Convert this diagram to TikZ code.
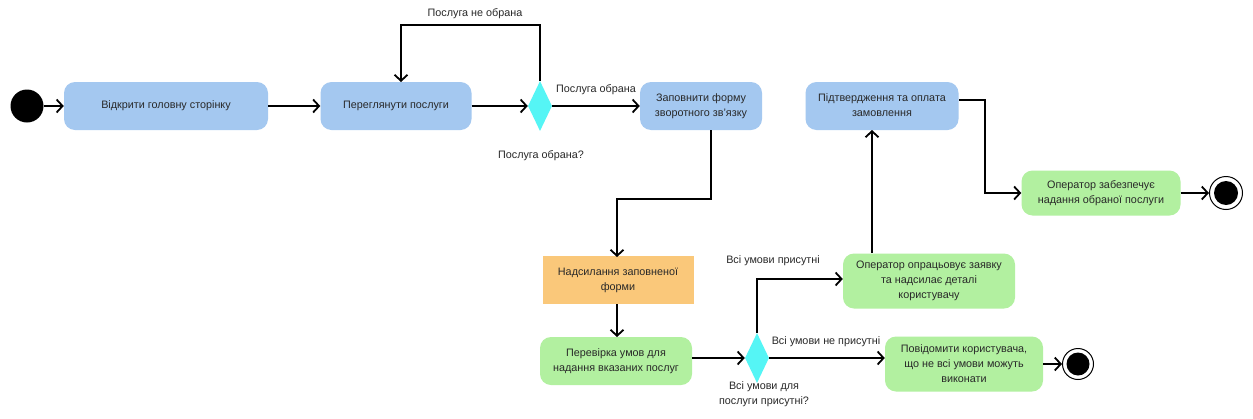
\documentclass[tikz,border=0pt]{standalone}
\usepackage{fontspec}
\setmainfont{Liberation Sans}
\usetikzlibrary{arrows.meta,shapes.geometric}
\definecolor{bluebox}{RGB}{164,200,240}
\definecolor{greenbox}{RGB}{178,240,160}
\definecolor{orangebox}{RGB}{250,200,122}
\definecolor{cyandia}{RGB}{85,245,245}
\definecolor{txt}{RGB}{40,40,40}
\begin{document}
\begin{tikzpicture}[x=1pt,y=-1pt,
  every node/.style={font=\fontsize{10.8}{15}\selectfont, text=txt},
  act/.style={rounded corners=11pt, align=center, inner sep=0pt},
  bluea/.style={act, fill=bluebox},
  greena/.style={act, fill=greenbox},
  orangea/.style={align=center, inner sep=0pt, fill=orangebox},
  dec/.style={diamond, fill=cyandia, inner sep=0pt, minimum width=24pt, minimum height=50pt, aspect=0.48},
  conn/.style={line width=1.8pt, -{Straight Barb[length=6pt,width=13pt,line width=1.8pt]}},
  lbl/.style={align=center, inner sep=0pt}]
\useasboundingbox (0,0) rectangle (1253,418);
\fill[white] (0,0) rectangle (1253,418);

% start
\node[circle, fill=black, minimum size=33pt, inner sep=0pt] (start) at (27,106) {};

\node[bluea, minimum width=204pt, minimum height=48pt] (open) at (166,106) {Відкрити головну сторінку};
\node[bluea, minimum width=151pt, minimum height=48pt] (browse) at (396,106) {Переглянути послуги};
\node[dec] (d1) at (540,106) {};
\node[bluea, minimum width=122pt, minimum height=48pt] (form) at (701,106) {Заповнити форму\\зворотного зв'язку};
\node[bluea, minimum width=153pt, minimum height=48pt] (pay) at (882,106) {\raisebox{5pt}{\begin{tabular}{@{}c@{}}Підтвердження та оплата\\замовлення\end{tabular}}};
\node[greena, minimum width=159pt, minimum height=45pt] (serve) at (1101,193) {Оператор забезпечує\\надання обраної послуги};
\node[circle, draw=black, line width=1pt, fill=white, minimum size=33pt, inner sep=0pt] (end1) at (1226,193) {};
\node[circle, fill=black, minimum size=24pt, inner sep=0pt] at (end1) {};

\node[orangea, minimum width=151pt, minimum height=48pt] (send) at (618,280) {Надсилання заповненої\\форми};
\node[greena, minimum width=152pt, minimum height=48pt] (check) at (616,361) {Перевірка умов для\\надання вказаних послуг};
\node[dec] (d2) at (757,358) {};
\node[greena, minimum width=172pt, minimum height=55pt] (proc) at (929,281) {Оператор опрацьовує заявку\\та надсилає деталі\\користувачу};
\node[greena, minimum width=158pt, minimum height=55pt] (notify) at (964,364) {Повідомити користувача,\\що не всі умови можуть\\виконати};
\node[circle, draw=black, line width=1pt, fill=white, minimum size=31pt, inner sep=0pt] (end2) at (1078,364) {};
\node[circle, fill=black, minimum size=23pt, inner sep=0pt] at (end2) {};

% labels
\node[lbl] (l1) at (475,14) {Послуга не обрана};
\node[lbl] (l2) at (596,90) {Послуга обрана};
\node[lbl] (l3) at (541,156) {Послуга обрана?};
\node[lbl] (l4) at (773,261) {Всі умови присутні};
\node[lbl] (l5) at (826,342) {Всі умови не присутні};
\node[lbl] (l6) at (764,394) {Всі умови для\\послуги присутні?};

% connectors
\draw[conn] (start.east) -- (open.west);
\draw[conn] (open.east) -- (browse.west);
\draw[conn] (browse.east) -- (d1.west);
\draw[conn] (d1.north) -- (540,25) -- (401,25) -- (401,82);
\draw[conn] (d1.east) -- (form.west);
\draw[conn] (959,100) -- (985,100) -- (985,193) -- (serve.west);
\draw[conn] (serve.east) -- (end1.west);
\draw[conn] (711,130) -- (711,199) -- (617,199) -- (617,257);
\draw[conn] (617,304) -- (617,337);
\draw[conn] (check.east |- d2.west) -- (d2.west);
\draw[conn] (d2.north) -- (757,279) -- (proc.west |- 0,279);
\draw[conn] (872,253) -- (872,130);
\draw[conn] (d2.east) -- (notify.west |- d2.east);
\draw[conn] (notify.east) -- (end2.west);
\end{tikzpicture}
\end{document}
